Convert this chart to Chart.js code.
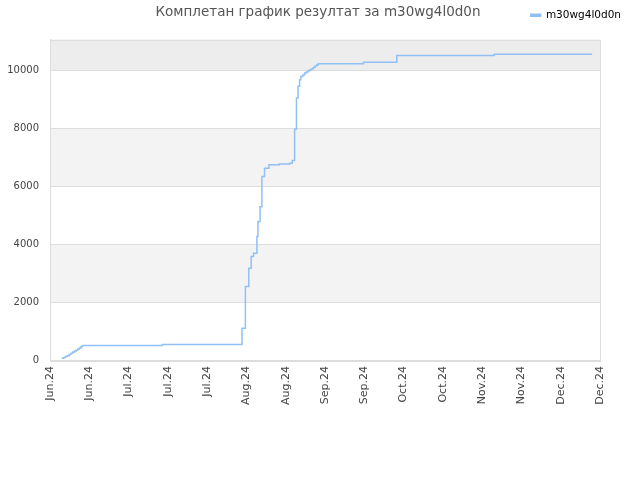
<!DOCTYPE html>
<html>
<head>
<meta charset="utf-8">
<script src="https://cdn.jsdelivr.net/npm/chart.js@4/dist/chart.umd.min.js"></script>
<style>
  html, body { margin: 0; padding: 0; background: #fff; }
  #wrap { width: 640px; height: 480px; }
</style>
</head>
<body>
<div id="wrap"><canvas id="c" width="640" height="480"></canvas></div>
<script>
const chartTitle = "Комплетан график резултат за m30wg4l0d0n";
const seriesName = "m30wg4l0d0n";
// days since 1 Jun 2024
const days = [4.5, 5.2, 5.9, 6.6, 7.3, 8.0, 8.7, 9.4, 10.0, 10.6, 11.2, 11.8, 12.4, 42.9,
  73.3, 74.6, 75.9, 76.8, 77.7, 79.0, 79.4, 80.2, 80.9, 81.9,
  83.6, 87.6, 91.5, 92.5, 93.4, 94.1, 94.7, 95.3, 95.8, 96.5, 97.2, 97.9, 98.5,
  99.2, 99.8, 100.5, 101.2, 101.8, 102.4, 119.7, 132.4, 169.6, 207.0];
const values = [60, 90, 120, 150, 190, 230, 280, 310, 340, 380, 420, 460, 505, 540,
  1095, 2540, 3170, 3575, 3690, 4270, 4790, 5300, 6340, 6630,
  6750, 6780, 6800, 6900, 7980, 9060, 9460, 9690, 9800, 9850, 9920, 9960, 10000,
  10030, 10060, 10110, 10160, 10200, 10240, 10290, 10530, 10570, 10570];
const tickLabels = ["Jun.24", "Jun.24", "Jul.24", "Jul.24", "Jul.24", "Aug.24", "Aug.24",
  "Sep.24", "Sep.24", "Oct.24", "Oct.24", "Nov.24", "Nov.24", "Dec.24", "Dec.24"];
const yTicks = [0, 2000, 4000, 6000, 8000, 10000];

const bandPlugin = {
  id: 'bands',
  afterInit(chart) {
    const lg = chart.legend;
    const origFit = lg.fit;
    lg.fit = function () { origFit.call(this); this.height += 9; };
  },
  afterLayout(chart) {
    chart.legend.left += 31;
    chart.legend.right += 31;
  },
  beforeDraw(chart) {
    const {ctx, chartArea: a, scales: {y}} = chart;
    ctx.save();
    const bands = [[2000, 4000, '#f3f3f3'], [6000, 8000, '#f3f3f3'], [10000, y.max, '#ededed']];
    for (const [lo, hi, col] of bands) {
      const t = y.getPixelForValue(hi), b = y.getPixelForValue(lo);
      ctx.fillStyle = col;
      ctx.fillRect(a.left, t, a.right - a.left, b - t);
    }
    ctx.restore();
  },
  afterDraw(chart) {
    const {ctx, chartArea: a} = chart;
    ctx.save();
    ctx.strokeStyle = '#dddddd';
    ctx.lineWidth = 1;
    ctx.strokeRect(Math.round(a.left) + 0.5, Math.round(a.top) + 0.5, Math.round(a.right - a.left), Math.round(a.bottom - a.top));
    ctx.fillStyle = '#555555';
    ctx.font = '13.5px "DejaVu Sans"';
    ctx.textAlign = 'center';
    ctx.textBaseline = 'middle';
    ctx.fillText(chartTitle, 318, 12);
    ctx.restore();
  }
};

new Chart(document.getElementById('c'), {
  type: 'line',
  data: {
    datasets: [{
      label: seriesName,
      data: days.map((d, i) => ({x: d, y: values[i]})),
      borderColor: '#90c0f4',
      backgroundColor: '#90c0f4',
      borderWidth: 1.5,
      pointRadius: 0,
      stepped: 'before',
      fill: false
    }]
  },
  options: {
    responsive: false,
    animation: false,
    devicePixelRatio: 1,
    layout: { padding: { left: 0, right: 40, top: 0, bottom: 69 } },
    plugins: {
      title: { display: false },
      tooltip: { enabled: false },
      legend: {
        display: true,
        position: 'top',
        align: 'end',
        labels: {
          boxWidth: 10,
          boxHeight: 2,
          color: '#000',
          font: { family: 'DejaVu Sans', size: 10.5 },
          padding: 10
        }
      }
    },
    scales: {
      x: {
        type: 'linear',
        min: 0,
        max: 210,
        grid: { display: false, drawTicks: false },
        border: { color: '#dddddd' },
        afterBuildTicks(axis) {
          axis.ticks = tickLabels.map((_, i) => ({ value: i * 15 }));
        },
        ticks: {
          autoSkip: false,
          maxRotation: 90,
          minRotation: 90,
          padding: 6,
          color: '#444',
          font: { family: 'DejaVu Sans', size: 11 },
          callback: (v, i) => tickLabels[i]
        }
      },
      y: {
        min: 0,
        max: 11080,
        grid: { color: '#dddddd', drawTicks: false },
        border: { color: '#dddddd' },
        afterBuildTicks(axis) {
          axis.ticks = yTicks.map(v => ({ value: v }));
        },
        afterFit(axis) { axis.width = 50; },
        ticks: {
          padding: 11,
          color: '#444',
          font: { family: 'DejaVu Sans', size: 10 },
          callback: v => String(v)
        }
      }
    }
  },
  plugins: [bandPlugin]
});
</script>
</body>
</html>
